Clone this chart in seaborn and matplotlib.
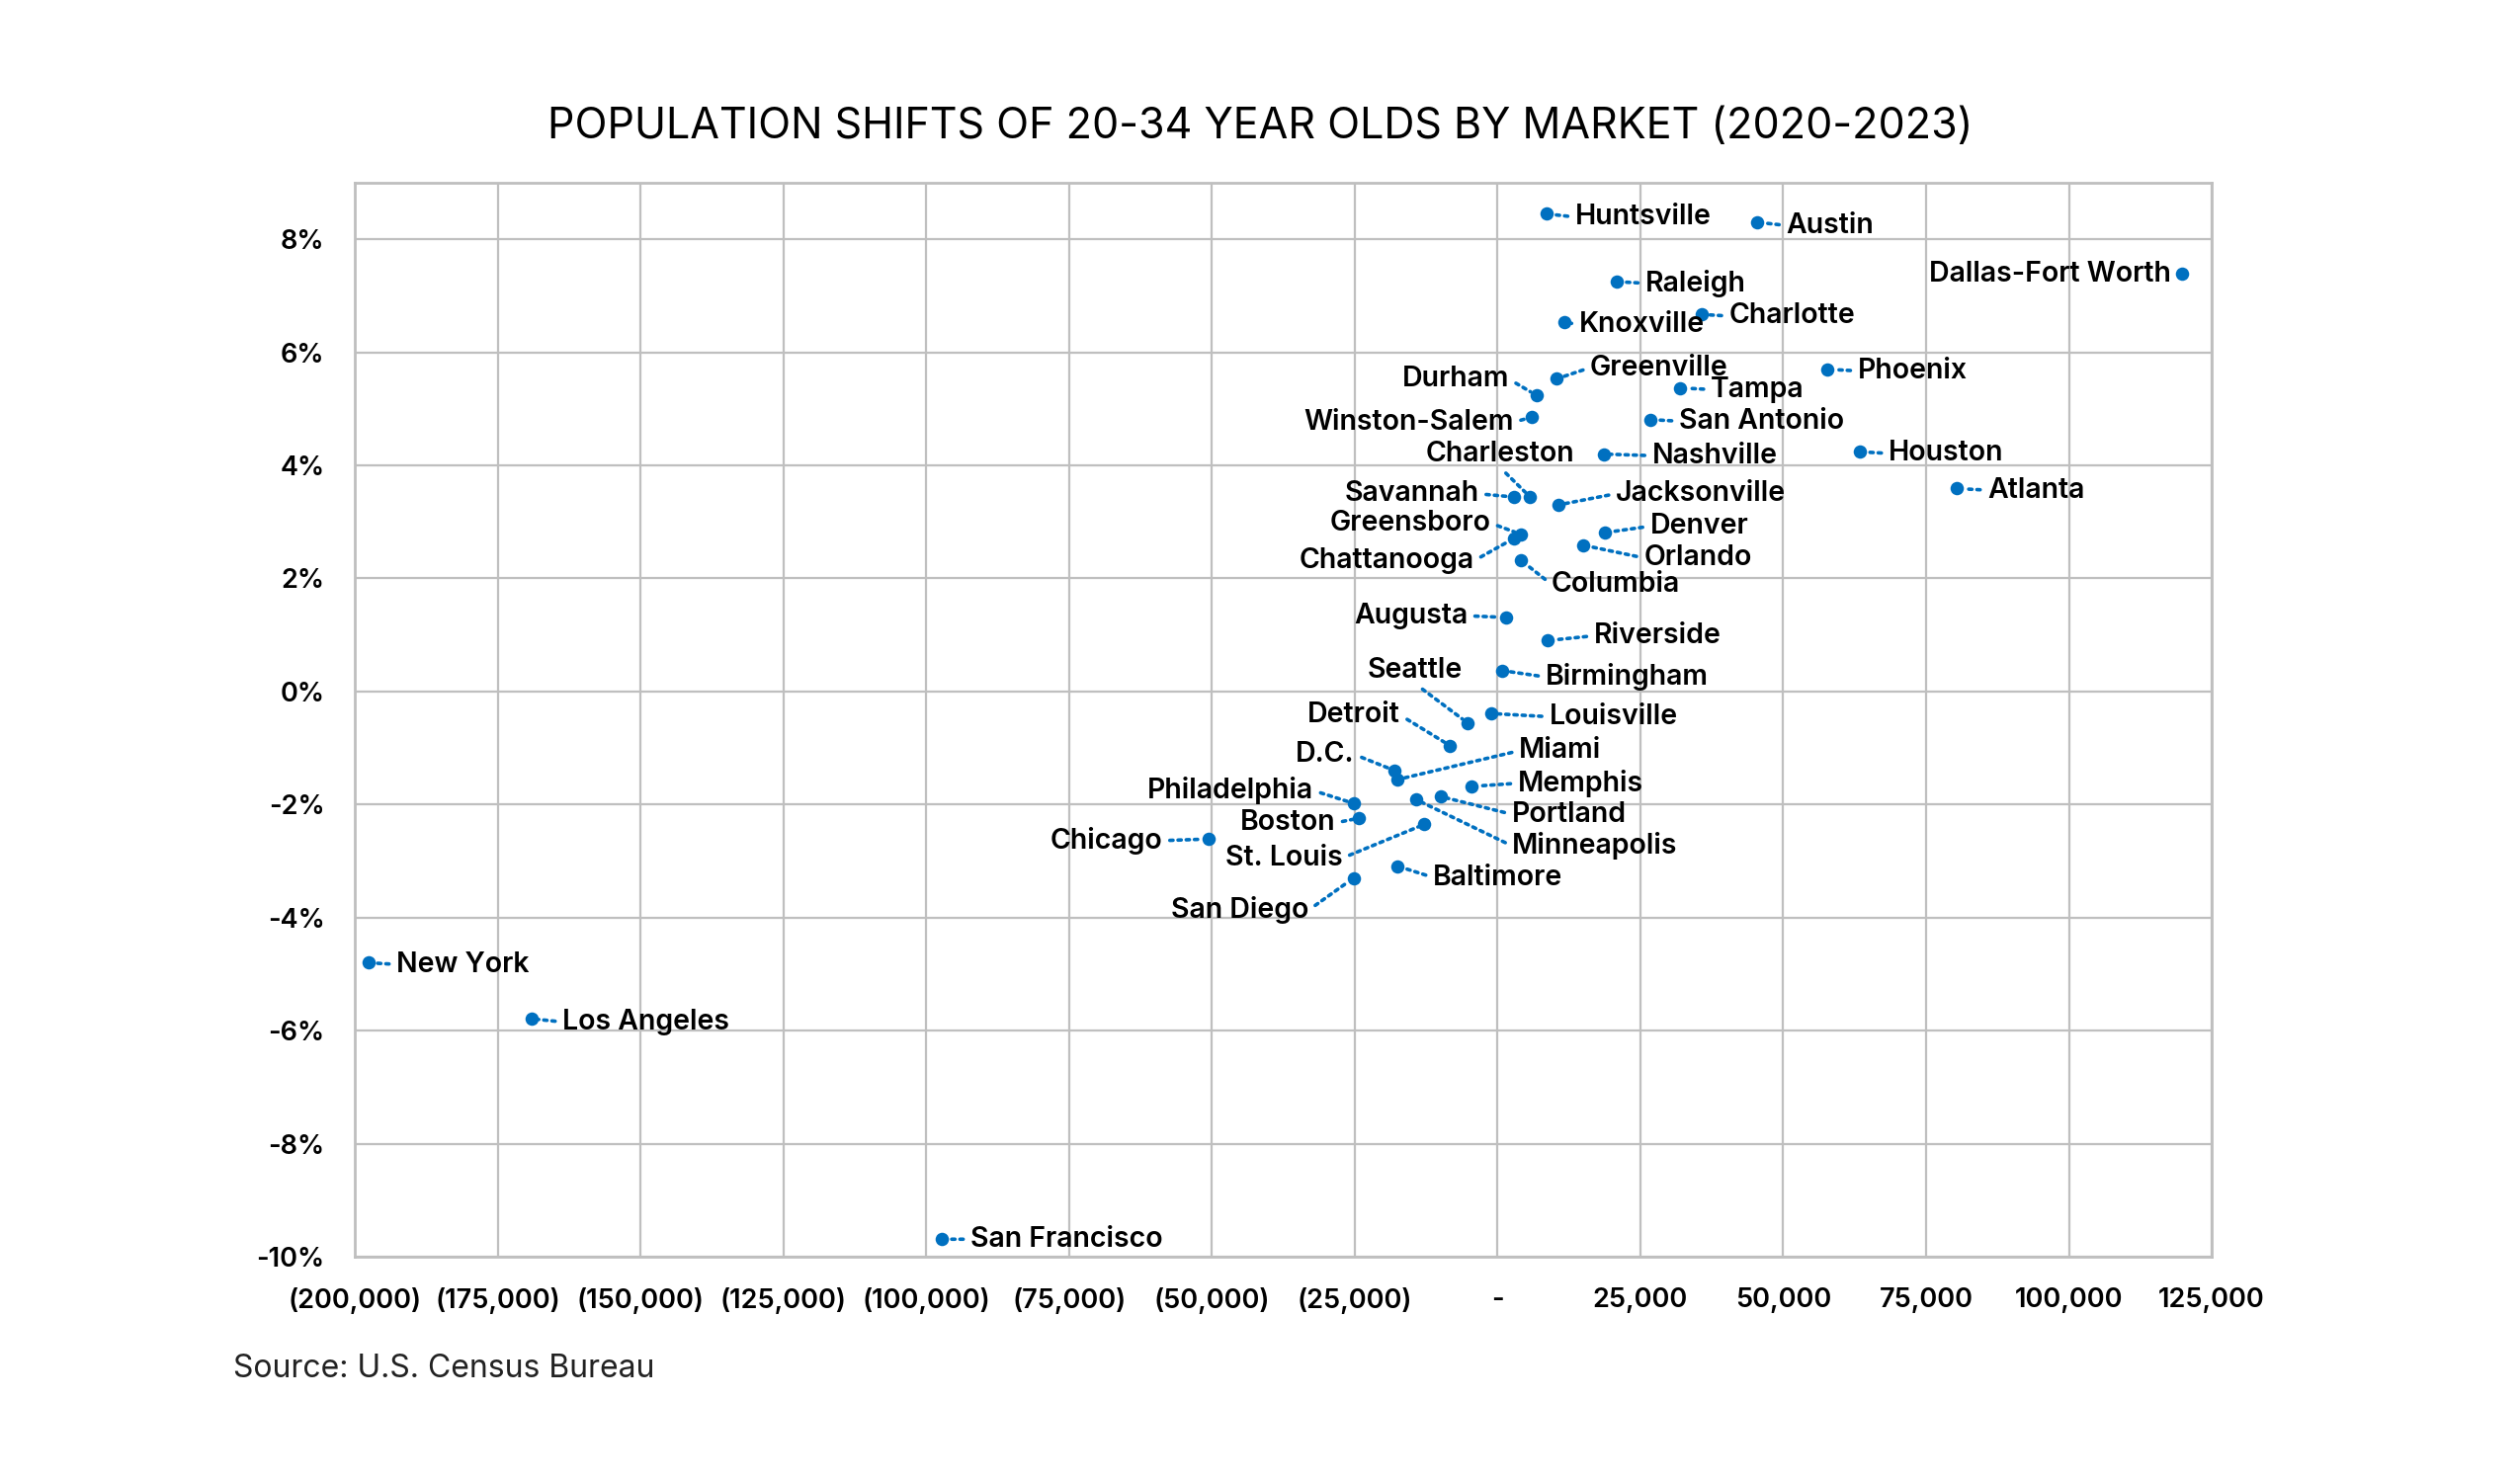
import matplotlib
matplotlib.use("Agg")
import matplotlib.pyplot as plt
import seaborn as sns
import pandas as pd

# market, change in 20-34 population (people), change in percent
markets = ["Huntsville", "Austin", "Dallas-Fort Worth", "Raleigh", "Charlotte", "Knoxville",
           "Greenville", "Durham", "Tampa", "Phoenix", "Winston-Salem", "San Antonio",
           "Nashville", "Houston", "Charleston", "Savannah", "Jacksonville", "Atlanta",
           "Denver", "Greensboro", "Chattanooga", "Orlando", "Columbia", "Augusta",
           "Riverside", "Birmingham", "Louisville", "Seattle", "Detroit", "D.C.",
           "Miami", "Memphis", "Portland", "Minneapolis", "Philadelphia", "Boston",
           "St. Louis", "Chicago", "Baltimore", "San Diego", "New York", "Los Angeles",
           "San Francisco"]
pop_change = [8500, 45500, 119800, 20800, 35700, 11700,
              10300, 6800, 32000, 57700, 5900, 26700,
              18600, 63400, 5700, 2900, 10600, 80400,
              18800, 4100, 2900, 14900, 4100, 1500,
              8700, 800, -1100, -5200, -8300, -18000,
              -17600, -4600, -9900, -14300, -25200, -24200,
              -12800, -50500, -17500, -25200, -197500, -169000,
              -97300]
pct_change = [8.45, 8.30, 7.39, 7.25, 6.67, 6.54,
              5.53, 5.24, 5.37, 5.70, 4.85, 4.81,
              4.20, 4.24, 3.44, 3.44, 3.30, 3.59,
              2.81, 2.78, 2.71, 2.59, 2.32, 1.31,
              0.90, 0.37, -0.39, -0.56, -0.96, -1.40,
              -1.56, -1.68, -1.86, -1.91, -1.98, -2.24,
              -2.35, -2.61, -3.09, -3.30, -4.80, -5.79,
              -9.69]

x_ticks = [-200000, -175000, -150000, -125000, -100000, -75000, -50000, -25000,
           0, 25000, 50000, 75000, 100000, 125000]
x_ticklabels = ["(200,000)", "(175,000)", "(150,000)", "(125,000)", "(100,000)", "(75,000)",
                "(50,000)", "(25,000)", "-", "25,000", "50,000", "75,000", "100,000", "125,000"]
y_ticks = [-10, -8, -6, -4, -2, 0, 2, 4, 6, 8]
y_ticklabels = ["-10%", "-8%", "-6%", "-4%", "-2%", "0%", "2%", "4%", "6%", "8%"]

# label placement: side and offset from dot (px at 1569 wide, scaled later)
label_pos = {
    "Huntsville": ("R", 18, 2), "Austin": ("R", 18, 2), "Dallas-Fort Worth": ("L", -7, 0),
    "Raleigh": ("R", 18, 1), "Charlotte": ("R", 17, 1), "Knoxville": ("R", 9, 2),
    "Greenville": ("R", 21, -7), "Durham": ("L", -17, -10), "Tampa": ("R", 19, 1),
    "Phoenix": ("R", 19, 1), "Winston-Salem": ("L", -11, 3), "San Antonio": ("R", 18, 1),
    "Nashville": ("R", 30, 1), "Houston": ("R", 18, 1), "Charleston": ("C", -19, -27),
    "Savannah": ("L", -22, -2), "Jacksonville": ("R", 36, -7), "Atlanta": ("R", 19, 1),
    "Denver": ("R", 28, -4), "Greensboro": ("L", -19, -7), "Chattanooga": ("L", -25, 14),
    "Orlando": ("R", 38, 8), "Columbia": ("R", 19, 15), "Augusta": ("L", -24, -1),
    "Riverside": ("R", 29, -3), "Birmingham": ("R", 27, 4), "Louisville": ("R", 36, 2),
    "Seattle": ("C", -33, -33), "Detroit": ("L", -31, -19), "D.C.": ("L", -25, -10),
    "Miami": ("R", 76, -18), "Memphis": ("R", 29, -2), "Portland": ("R", 44, 11),
    "Minneapolis": ("R", 60, 29), "Philadelphia": ("L", -25, -8), "Boston": ("L", -15, 3),
    "St. Louis": ("L", -51, 21), "Chicago": ("L", -29, 1), "Baltimore": ("R", 22, 7),
    "San Diego": ("L", -28, 20), "New York": ("R", 17, 1), "Los Angeles": ("R", 19, 2),
    "San Francisco": ("R", 18, 0),
}

df = pd.DataFrame({"market": markets, "pop": pop_change, "pct": pct_change})

blue = "#0070C0"
grid = "#BFBFBF"

sns.set_style("white")
plt.rcParams["font.family"] = ["Inter", "Roboto", "DejaVu Sans"]

fig = plt.figure(figsize=(25.5, 15), dpi=100)
ax = fig.add_axes([0.1408, 0.152, 0.7369, 0.7247])

sns.scatterplot(data=df, x="pop", y="pct", ax=ax, color=blue, s=95,
                edgecolor=None, linewidth=0, zorder=4)

scale = 1.625
for _, row in df.iterrows():
    side, dx, dy = label_pos[row["market"]]
    if side == "R":
        ha, rel = "left", (0, 0.5)
    elif side == "L":
        ha, rel = "right", (1, 0.5)
    else:
        ha, rel = "center", (0.5, 0)
    ax.annotate(row["market"], xy=(row["pop"], row["pct"]),
                xytext=(dx * scale, -dy * scale), textcoords="offset pixels",
                ha=ha, va="center", fontsize=20.5, fontweight="semibold", color="black",
                zorder=5,
                arrowprops=dict(arrowstyle="-", color=blue, lw=2.6,
                                linestyle=(0, (0.9, 1.4)), relpos=rel,
                                shrinkA=3, shrinkB=5))

ax.set_xlim(-200000, 125000)
ax.set_ylim(-10, 9)
ax.set_xticks(x_ticks)
ax.set_xticklabels(x_ticklabels)
ax.set_yticks(y_ticks)
ax.set_yticklabels(y_ticklabels)
ax.tick_params(axis="both", length=0, labelsize=19.5, colors="black")
ax.tick_params(axis="x", pad=22)
ax.tick_params(axis="y", pad=22)
for lab in ax.get_xticklabels() + ax.get_yticklabels():
    lab.set_fontweight("semibold")
ax.grid(True, color=grid, linewidth=1.6)
ax.set_axisbelow(True)
for side in ["top", "right", "left", "bottom"]:
    ax.spines[side].set_visible(True)
    ax.spines[side].set_color(grid)
    ax.spines[side].set_linewidth(2)
ax.set_xlabel("")
ax.set_ylabel("")

fig.text(0.5, 1 - 128 / 1500, "POPULATION SHIFTS OF 20-34 YEAR OLDS BY MARKET (2020-2023)",
         ha="center", va="center", fontsize=31, color="black")
fig.text(236 / 2550, 1 - 1386 / 1500, "Source: U.S. Census Bureau",
         ha="left", va="center", fontsize=23, color="#222222")

fig.savefig("out.png", dpi=100)
